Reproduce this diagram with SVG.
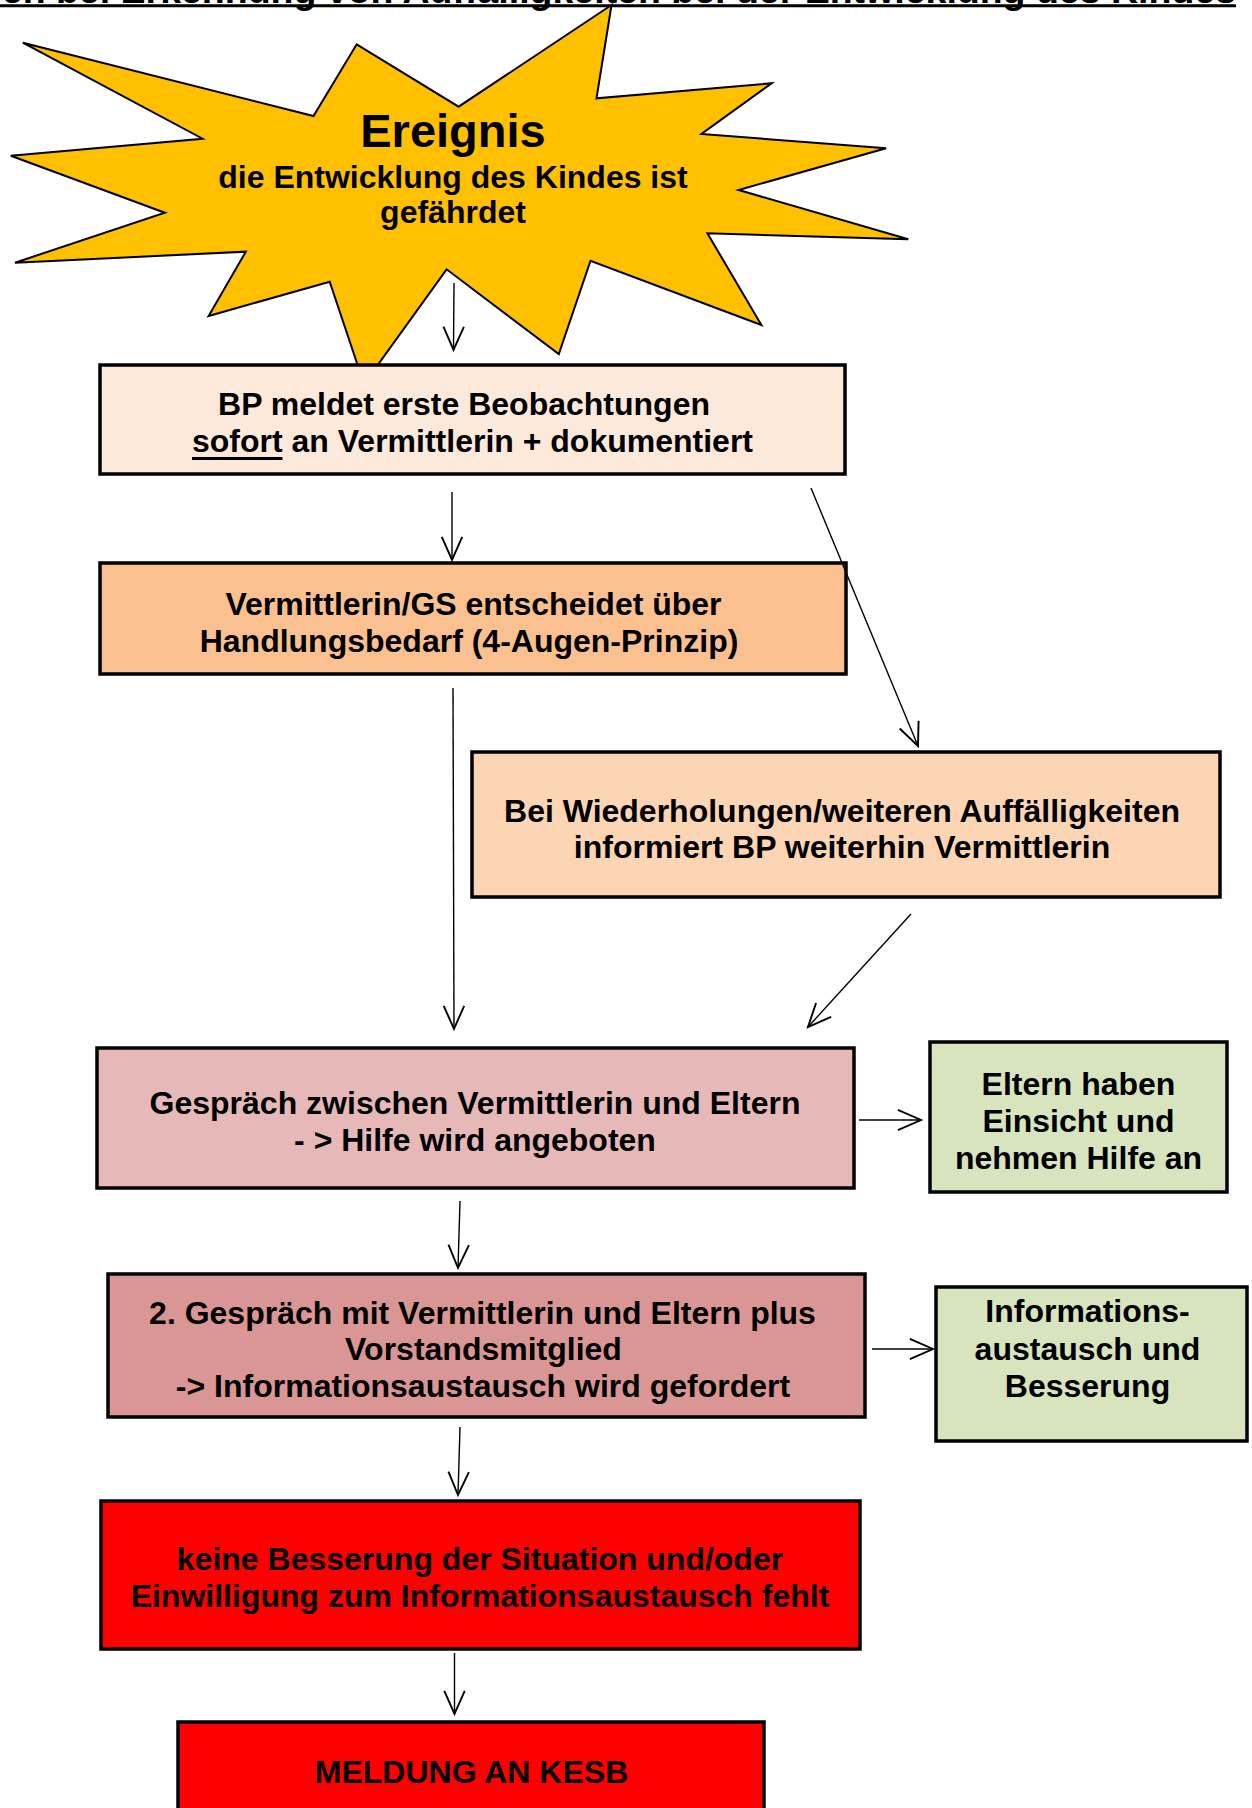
<svg xmlns="http://www.w3.org/2000/svg" width="1252" height="1808" viewBox="0 0 1252 1808">
<defs>
<style>
text{font-family:"Liberation Sans",Arial,sans-serif;font-weight:bold;fill:#000}
.t{font-size:32px;text-anchor:middle}
.box{stroke:#000;stroke-width:3.5}
.c{stroke:#000;stroke-width:1.4;fill:none;marker-end:url(#ah)}
</style>
<marker id="ah" markerUnits="userSpaceOnUse" markerWidth="30" markerHeight="30" viewBox="-20 -10 22 20" refX="0" refY="0" orient="auto">
<path d="M-17,-7.5 L0,0 L-17,7.5" fill="none" stroke="#000" stroke-width="1.4"/>
</marker>
</defs>
<rect width="1252" height="1808" fill="#fff"/>
<g id="title">
<text x="1236" y="3" style="font-size:37.5px;text-anchor:end">Vorgehen bei Erkennung von Auffälligkeiten bei der Entwicklung des Kindes</text>
<line x1="0" y1="5.8" x2="1236" y2="5.8" stroke="#000" stroke-width="3"/>
</g>
<g id="ereignis">
<polygon points="22.8,42.7 313.5,116 356.7,44.3 458.6,106.7 611.5,5 596.5,98.3 771.6,83.3 701.4,134 886.1,148.3 738.6,190 908.3,239.3 707.4,233.3 761.4,325 590.5,260.7 558.8,354 446.6,269.3 364,384 329.7,281.7 208.6,316 245.8,251.7 15,262.7 164.9,212.7 10.8,155.7 202.6,138.7" fill="#FFC000" stroke="#000" stroke-width="2"/>
<text x="453" y="147" style="font-size:47px;text-anchor:middle">Ereignis</text>
<text class="t" x="453" y="188">die Entwicklung des Kindes ist</text>
<text class="t" x="453" y="223">gefährdet</text>
</g>
<g id="bp-meldet">
<rect class="box" x="100" y="365" width="745" height="109" fill="#FDE9D9"/>
<text class="t" x="464" y="415">BP meldet erste Beobachtungen</text>
<text class="t" x="472.5" y="452">sofort an Vermittlerin + dokumentiert</text>
<line x1="192" y1="458.5" x2="282.5" y2="458.5" stroke="#000" stroke-width="3"/>
</g>
<g id="vermittlerin-gs">
<rect class="box" x="100" y="563" width="746" height="111" fill="#FAC090"/>
<text class="t" x="473.5" y="615">Vermittlerin/GS entscheidet über</text>
<text class="t" x="469" y="652">Handlungsbedarf (4-Augen-Prinzip)</text>
</g>
<g id="wiederholungen">
<rect class="box" x="472" y="752" width="748" height="145" fill="#FCD5B5"/>
<text class="t" x="842" y="821.5">Bei Wiederholungen/weiteren Auffälligkeiten</text>
<text class="t" x="842" y="857.5">informiert BP weiterhin Vermittlerin</text>
</g>
<g id="gespraech">
<rect class="box" x="97" y="1048" width="757" height="140" fill="#E6B9B8"/>
<text class="t" x="475" y="1114">Gespräch zwischen Vermittlerin und Eltern</text>
<text class="t" x="475" y="1151">- &gt; Hilfe wird angeboten</text>
</g>
<g id="eltern-einsicht">
<rect class="box" x="930" y="1042" width="297" height="150" fill="#D7E4BD"/>
<text class="t" x="1078.5" y="1095">Eltern haben</text>
<text class="t" x="1078.5" y="1132">Einsicht und</text>
<text class="t" x="1078.5" y="1169">nehmen Hilfe an</text>
</g>
<g id="gespraech-2">
<rect class="box" x="108" y="1274" width="757" height="143" fill="#DA9694"/>
<text class="t" x="482.5" y="1324">2. Gespräch mit Vermittlerin und Eltern plus</text>
<text class="t" x="483.5" y="1360">Vorstandsmitglied</text>
<text class="t" x="483" y="1397">-&gt; Informationsaustausch wird gefordert</text>
</g>
<g id="informationsaustausch">
<rect class="box" x="936" y="1287" width="311" height="154" fill="#D7E4BD"/>
<text class="t" x="1087.5" y="1322">Informations-</text>
<text class="t" x="1087.5" y="1360">austausch und</text>
<text class="t" x="1087.5" y="1397">Besserung</text>
</g>
<g id="keine-besserung">
<rect class="box" x="101" y="1501" width="759" height="148" fill="#FF0000"/>
<text class="t" x="480" y="1570">keine Besserung der Situation und/oder</text>
<text class="t" x="480" y="1607">Einwilligung zum Informationsaustausch fehlt</text>
</g>
<g id="meldung-kesb">
<rect class="box" x="178" y="1722" width="586" height="120" fill="#FF0000"/>
<text class="t" x="471.5" y="1783">MELDUNG AN KESB</text>
</g>
<g id="connectors">
<line class="c" x1="454" y1="283" x2="453.5" y2="350"/>
<line class="c" x1="452" y1="492" x2="452" y2="560"/>
<line class="c" x1="811" y1="488" x2="918" y2="746"/>
<line class="c" x1="453" y1="688" x2="454" y2="1029"/>
<line class="c" x1="911" y1="914" x2="808" y2="1027"/>
<line class="c" x1="460" y1="1201" x2="458" y2="1268"/>
<line class="c" x1="460" y1="1427" x2="458" y2="1495"/>
<line class="c" x1="454.5" y1="1653" x2="454.5" y2="1714"/>
<line class="c" x1="859" y1="1120" x2="921" y2="1120"/>
<line class="c" x1="872" y1="1349" x2="933" y2="1349"/>
</g>
</svg>
